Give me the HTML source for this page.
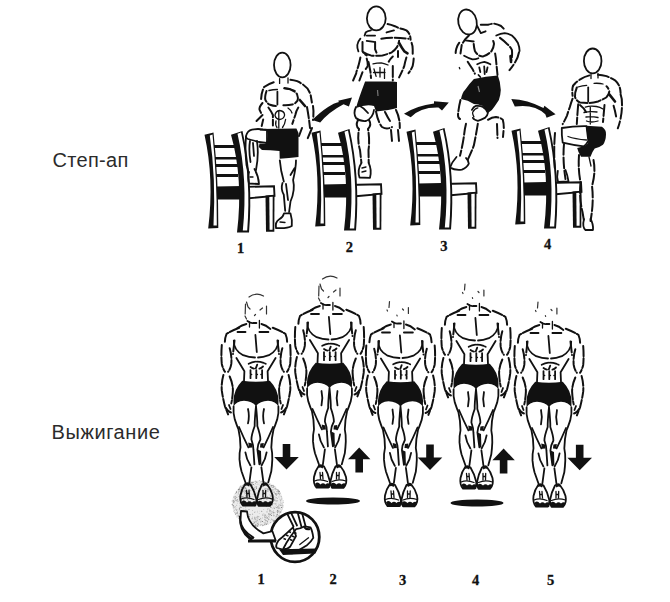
<!DOCTYPE html>
<html><head><meta charset="utf-8">
<style>
html,body{margin:0;padding:0;background:#fff;width:670px;height:602px;overflow:hidden}
svg{display:block}
.lbl{font-family:"Liberation Sans",sans-serif;font-size:20px;fill:#2b2b2b}
.num{font-family:"Liberation Serif",serif;font-weight:bold;font-size:14.5px;fill:#111;stroke:#111;stroke-width:0.3}
.o{fill:none;stroke:#111;stroke-width:1.8;stroke-linecap:round;stroke-linejoin:round}
.t{fill:none;stroke:#111;stroke-width:1.3;stroke-linecap:round}
.d{fill:none;stroke:#111;stroke-width:2;stroke-linecap:round;stroke-dasharray:11 2.5}
.h{fill:none;stroke:#333;stroke-width:1.2;stroke-linecap:round}
.k{fill:#111}
.w{fill:#fff}
</style></head><body>
<svg width="670" height="602" viewBox="0 0 670 602">
<defs>
  <g id="chair">
    <!-- slat lines -->
    <path d="M6 11 L30 11 L30 14 L6 14 Z M7 23 L31 23 L31 25.5 L7 25.5 Z M7 30 L32 30 L32 33 L7 33 Z M8 40 L32 40 L32 43 L8 43 Z" class="k"/>
    <!-- seat -->
    <path d="M10 53.5 L68 52.3 L68.5 62 L40 64.5 L10 64.5 Z" fill="#fff" stroke="#111" stroke-width="1.9"/>
    <path d="M9 53 L35.6 53 L35.6 64 L9 64 Z" class="k"/>
    <!-- left back post -->
    <path d="M-1.5 0.8 L7.5 -1.5 Q12.5 45 12.3 94 L2.2 94.5 Q8.3 45 -1.5 0.8 Z" class="k"/>
    <path d="M3.8 1.5 L6.5 0.5 Q11 45 10.8 91.5 L7.5 91.5 Q10 45 3.8 1.5 Z" class="w"/>
    <!-- right back post -->
    <path d="M25 0.8 L36.5 -3 Q47.5 45 43 98.6 L31 98.6 Q37.5 45 25 0.8 Z" class="k"/>
    <path d="M31.5 -0.3 L35 -1.5 Q45.3 45 41.2 96.5 L36.8 96.5 Q42 45 31.5 -0.3 Z" class="w"/>
    <!-- front leg -->
    <path d="M59.5 61.5 L68.5 60.8 L68.3 97.7 L60 97.7 Z" class="k"/>
    <path d="M63.3 63 L66.7 62.8 L66.6 95.8 L63.6 95.8 Z" class="w"/>
  </g>
  <g id="headA">
    <path d="M-7 -84 Q0 -89 7.5 -85 M-10.5 -77 L-10.8 -67 M10.5 -75 L10.5 -67 M-9.5 -79 L-8 -74 L-6 -72 M4 -71 L6.5 -73 M-1.5 -65.5 L-0.5 -66.5 M-11 -65 L-9.5 -62" class="h"/>
  </g>
  <g id="headB">
    <path d="M-11 -80 L-11.5 -74 M-13.5 -71.5 L-13 -70.5 M2 -72.5 L3 -71.5 M7.9 -74 L7.9 -68 M-3.6 -66.5 L-3.4 -65.5" class="h" stroke-width="1.1"/>
  </g>
  <g id="front">
    <!-- neck & traps -->
    <path d="M-8.6 -60 Q-5 -57.5 -2.6 -58 L0.4 -58" class="o"/>
    <path d="M3.4 -60.5 L3.4 -53 M-6.5 -59 L-6.5 -54" class="t"/>
    <path d="M-18.5 -53 Q-14 -56 -9.6 -57 M5.4 -57 Q10 -56 14.4 -52" class="o"/>
    <path d="M-18.5 -49 L-10.5 -49 M3.4 -49 L12.4 -49" class="o"/>
    <!-- pecs -->
    <path d="M-22.2 -40.4 Q-22.5 -31 -12.9 -25.8 Q-7 -23.5 -1 -23.5" class="o" stroke-width="2"/>
    <path d="M22.2 -40.4 Q22.5 -31 12.9 -25.8 Q7 -23.5 2 -23.5" class="o" stroke-width="2"/>
    <path d="M-0.6 -46 L0.8 -29" class="o" stroke-width="2"/>
    <!-- lats -->
    <path d="M-19.6 -23 L-11.6 -9.8 L-12 0" class="o"/>
    <path d="M19.6 -23 L11.6 -9.8 L12 0" class="o"/>
    <!-- abs -->
    <path d="M-7.3 -17.2 Q0.7 -21.5 9.7 -17.2" class="o" stroke-width="1.9" style="stroke-dasharray:7 1.5"/>
    <path d="M-5.5 -14 Q-3.5 -12.5 -2 -12.3 M3.4 -12.3 Q5.5 -13 7 -14.5 M1.2 -16.3 L-0.2 -12.7" class="o" stroke-width="1.8"/>
    <path d="M-5.5 -10.9 L-5.5 -2.8 M0.3 -10.9 L0.3 -2.8 M6.1 -10.9 L6.1 -2.8" class="o" stroke-width="1.9" style="stroke-dasharray:4 1.3"/>
    <path d="M-5.5 -6.5 L-4.3 -6.5 M0.3 -6.5 L1.5 -6.5 M6.1 -6.5 L4.9 -6.5" class="t"/>
    <!-- arms -->
    <path d="M-16.8 -53.3 Q-24.7 -50.2 -29.5 -47 Q-31.5 -42 -31 -37.6 M16.8 -53.3 Q24.7 -50.2 29.5 -47 Q31.5 -42 31 -37.6" class="d" stroke-width="2.1" style="stroke-dasharray:10 2"/>
    <path d="M-34.2 -36 Q-35 -26 -34.2 -17.1 Q-33 -12 -31 -9.2 M34.2 -36 Q35 -26 34.2 -17.1 Q33 -12 31 -9.2" class="d" stroke-width="2.1" style="stroke-dasharray:10 2"/>
    <path d="M-26.3 -32.8 Q-24 -25 -24.7 -17.1 Q-25.5 -12 -27.9 -9.2 M26.3 -32.8 Q24 -25 24.7 -17.1 Q25.5 -12 27.9 -9.2" class="d" stroke-width="2.1" style="stroke-dasharray:10 2"/>
    <path d="M-32.6 -6 Q-34.8 2 -34.2 9.7 Q-33 18 -31 25.5 L-27.9 33.4 M32.6 -6 Q34.8 2 34.2 9.7 Q33 18 31 25.5 L27.9 33.4" class="d" stroke-width="2.1" style="stroke-dasharray:10 2"/>
    <path d="M-26.3 -4.5 Q-23 3 -23.1 9.7 Q-23.5 17 -24.7 22.4 M26.3 -4.5 Q23 3 23.1 9.7 Q23.5 17 24.7 22.4" class="d" stroke-width="2.1" style="stroke-dasharray:10 2"/>
    <path d="M-21.5 -40.5 L-23 -27 M21.5 -40.5 L23 -27" class="d" stroke-width="1.7"/>
    <path d="M-30 27 Q-27.5 31 -25 31.5 M-27 24 L-25.5 28 M30 27 Q27.5 31 25 31.5 M27 24 L25.5 28" class="o" stroke-width="1.8"/>
    <!-- shorts -->
    <path d="M-13.8 -0.3 Q0 1.8 13.8 -0.3 Q18 4 20.2 9 Q22.5 15 22.5 19 L22.4 25.5 Q20 20.5 12 19.8 Q4 20 0 25 Q-4 20 -12 19.8 Q-20 20.5 -22.4 25.5 L-22.5 19 Q-22.5 15 -20.2 9 Q-18 4 -13.8 -0.3 Z" class="k"/>
    <!-- thighs -->
    <path d="M-22.4 25.5 Q-23 32 -21.2 38.4 Q-19 45 -17.5 48.5 Q-15.5 57 -15.5 66.4 Q-16.8 72 -16.5 78.4 Q-16 85 -14.5 90.3 L-10.6 101.3" class="o" stroke-width="2"/>
    <path d="M22.4 25.5 Q23 32 21.2 38.4 Q19 45 17.5 48.5 Q15.5 57 15.3 66.4 Q16.5 72 16.3 78.4 Q16 85 15.3 90.3 L12.3 101.3" class="o" stroke-width="2"/>
    <path d="M0 25 Q-1.5 40 -1.3 45 Q-4.6 54 -4.6 58.5 Q-2.6 64 -2.6 68.4 L-1.6 83.4 M0 25 Q1.5 40 1.3 45 Q4.4 54 4.4 58.5 Q1.4 64 1.4 68.4 L3.4 83.4" class="o" stroke-width="1.9"/>
    <path d="M-8 28 Q-6.3 35 -8 42.4 M8 28 Q6.3 35 8 42.4" class="o" stroke-width="1.7"/>
    <path d="M-17 46 Q-12.5 56.5 -7.6 66.4 M17 46 Q12.5 56.5 7.6 66.4" class="o" stroke-width="1.8"/>
    <path d="M-7.8 61.5 L-4 62.5 L-3.6 66.4 L-7 66.8 Z M7.8 62 L4.4 62.5 L4 66.4 L7.4 66.8 Z M1.6 68.4 L5 70 L5.4 83.4 L3.2 83.4 Z" class="k"/>
    <path d="M-10.6 71.4 Q-9.6 78.4 -5.6 84.4 M10.6 71.4 Q9.6 78.4 5.6 84.4 M-4.6 86.3 L-6.6 101.3 M5.4 86.3 L7.4 101.3" class="o" stroke-width="1.8"/>
    <!-- shoes -->
    <path d="M-10.5 102.5 Q-14.5 108 -15.5 114 Q-16.5 121 -13 124.5 L-1 124.5 Q0.8 122 0.3 118 Q-1.5 110 -5.5 103.5 Q-8 101.5 -10.5 102.5 Z" fill="#fff" class="o" stroke-width="2"/>
    <path d="M10.5 102.5 Q15 108 16.5 114 Q18 121 14 124.8 L2.5 124.8 Q0.6 122 1 118 Q2.5 110 6 103.5 Q8.5 101.5 10.5 102.5 Z" fill="#fff" class="o" stroke-width="2"/>
    <path d="M-10.5 102.3 Q-8 101.5 -5.8 103.3 L-7 105.5 Q-9 104 -11 105 Z M10.5 102.3 Q8.5 101.5 6.2 103.3 L7.5 105.5 Q9.5 104 11.5 105 Z" class="k"/>
    <path d="M-14.5 121 Q-12 118 -9 121.5 Q-6.5 119 -4 121.5 Q-2 119.5 0.3 121 L0.2 125 L-12.5 125 Z M1.5 121 Q4 118.5 7 121.5 Q9.5 119 12 121.5 Q14.5 119.5 16.5 121 L14.5 125 L2.5 125 Z" class="k"/>
    <path d="M-9.5 109.5 L-9 116 M-7 109.5 L-6.5 116 M-9.3 112.5 L-6.7 112.5 M7 109.5 L7 116 M9.7 109.5 L9.5 116 M7 112.5 L9.6 112.5" class="t"/>
    <path d="M-15 118 Q-9 115.5 -2 118.5 M2.5 118.5 Q9 115.5 16.5 118" class="t"/>
  </g>
  <path id="down" d="M-3.8 0 L3.8 0 L3.8 13 L12.3 13 L0 25.5 L-12.3 13 L-3.8 13 Z"/>
  <path id="up" d="M0 0 L11.2 11.7 L3.8 11.7 L3.8 25 L-3.8 25 L-3.8 11.7 L-11.2 11.7 Z"/>
</defs>

<text x="52.5" y="166.5" class="lbl" style="letter-spacing:0.3px">Степ-ап</text>
<text x="51.5" y="439.2" class="lbl" style="letter-spacing:0.6px">Выжигание</text>

<!-- chairs -->
<use href="#chair" x="206" y="134"/>
<use href="#chair" x="313" y="132"/>
<use href="#chair" x="408" y="131"/>
<use href="#chair" x="513" y="130"/>

<!-- arrows top -->
<path d="M312.2 119.9 Q329.2 103.85 339 102 L338.1 100.8 L352 97.5 L348.9 106.5 L343.5 104.2 Q328.35 112.2 320.2 122.6 Z" class="k"/>
<path d="M404 113.7 Q416.8 105.45 434 103.4 L434 101.2 L448.8 102.5 L442 110.6 L438.5 107.5 Q420.2 107 410.7 117.3 Z" class="k"/>
<path d="M511.3 99 Q527.4 99.75 543.5 107.9 L544.4 105.7 L555.6 114.2 L546.6 117.8 L545.3 114.2 Q533.75 103.6 514.8 106.6 Z" class="k"/>

<!-- bottom figures -->
<g><ellipse cx="257.7" cy="503.4" rx="25.7" ry="23" fill="#ececec"/><circle cx="268.4" cy="516.7" r="0.35" fill="#777"/><circle cx="277.8" cy="515.5" r="0.35" fill="#bbb"/><circle cx="263.2" cy="525.2" r="0.45" fill="#777"/><circle cx="258.9" cy="521.1" r="0.45" fill="#bbb"/><circle cx="247.6" cy="499.5" r="0.55" fill="#888"/><circle cx="278.9" cy="496.9" r="0.55" fill="#bbb"/><circle cx="277.0" cy="500.8" r="0.55" fill="#777"/><circle cx="251.7" cy="524.7" r="0.55" fill="#888"/><circle cx="252.8" cy="514.7" r="0.35" fill="#888"/><circle cx="243.7" cy="488.4" r="0.35" fill="#999"/><circle cx="277.5" cy="510.8" r="0.55" fill="#777"/><circle cx="250.9" cy="490.4" r="0.45" fill="#aaa"/><circle cx="275.8" cy="494.9" r="0.45" fill="#999"/><circle cx="264.9" cy="517.1" r="0.35" fill="#888"/><circle cx="236.2" cy="500.3" r="0.55" fill="#999"/><circle cx="242.0" cy="492.0" r="0.35" fill="#777"/><circle cx="268.4" cy="519.6" r="0.35" fill="#999"/><circle cx="235.5" cy="514.0" r="0.55" fill="#777"/><circle cx="273.1" cy="489.7" r="0.45" fill="#999"/><circle cx="238.6" cy="491.9" r="0.45" fill="#bbb"/><circle cx="267.3" cy="509.1" r="0.45" fill="#999"/><circle cx="278.9" cy="511.6" r="0.55" fill="#999"/><circle cx="248.6" cy="485.7" r="0.45" fill="#aaa"/><circle cx="275.3" cy="489.8" r="0.35" fill="#999"/><circle cx="242.2" cy="521.2" r="0.35" fill="#bbb"/><circle cx="261.8" cy="521.6" r="0.35" fill="#999"/><circle cx="238.9" cy="516.0" r="0.35" fill="#aaa"/><circle cx="245.5" cy="511.2" r="0.35" fill="#999"/><circle cx="273.6" cy="487.1" r="0.55" fill="#999"/><circle cx="245.2" cy="517.1" r="0.35" fill="#aaa"/><circle cx="264.2" cy="515.1" r="0.55" fill="#888"/><circle cx="241.2" cy="504.8" r="0.35" fill="#bbb"/><circle cx="274.9" cy="503.8" r="0.55" fill="#aaa"/><circle cx="240.3" cy="496.5" r="0.55" fill="#888"/><circle cx="281.1" cy="496.6" r="0.45" fill="#777"/><circle cx="262.4" cy="481.5" r="0.45" fill="#bbb"/><circle cx="242.4" cy="514.2" r="0.55" fill="#aaa"/><circle cx="264.8" cy="519.7" r="0.45" fill="#888"/><circle cx="249.7" cy="514.7" r="0.35" fill="#777"/><circle cx="258.9" cy="504.9" r="0.45" fill="#777"/><circle cx="277.8" cy="511.9" r="0.55" fill="#888"/><circle cx="245.0" cy="490.6" r="0.55" fill="#999"/><circle cx="271.3" cy="515.2" r="0.45" fill="#aaa"/><circle cx="249.9" cy="520.5" r="0.35" fill="#888"/><circle cx="256.3" cy="482.3" r="0.55" fill="#aaa"/><circle cx="272.4" cy="505.3" r="0.45" fill="#bbb"/><circle cx="243.8" cy="499.9" r="0.55" fill="#777"/><circle cx="246.6" cy="490.9" r="0.55" fill="#777"/><circle cx="233.4" cy="500.9" r="0.45" fill="#888"/><circle cx="234.4" cy="499.1" r="0.45" fill="#bbb"/><circle cx="240.7" cy="490.3" r="0.35" fill="#888"/><circle cx="256.2" cy="481.8" r="0.35" fill="#888"/><circle cx="244.7" cy="518.3" r="0.35" fill="#777"/><circle cx="234.1" cy="507.1" r="0.55" fill="#888"/><circle cx="245.4" cy="519.8" r="0.45" fill="#999"/><circle cx="267.4" cy="509.9" r="0.35" fill="#aaa"/><circle cx="239.3" cy="505.2" r="0.35" fill="#bbb"/><circle cx="245.9" cy="488.3" r="0.55" fill="#777"/><circle cx="247.3" cy="511.2" r="0.45" fill="#888"/><circle cx="235.0" cy="512.4" r="0.35" fill="#999"/><circle cx="281.4" cy="499.6" r="0.45" fill="#aaa"/><circle cx="276.2" cy="497.7" r="0.35" fill="#888"/><circle cx="283.0" cy="507.4" r="0.45" fill="#bbb"/><circle cx="272.3" cy="520.5" r="0.45" fill="#bbb"/><circle cx="244.3" cy="519.8" r="0.55" fill="#bbb"/><circle cx="271.6" cy="504.5" r="0.55" fill="#777"/><circle cx="272.8" cy="519.6" r="0.35" fill="#888"/><circle cx="259.7" cy="511.1" r="0.35" fill="#bbb"/><circle cx="246.8" cy="522.2" r="0.45" fill="#bbb"/><circle cx="280.3" cy="511.5" r="0.45" fill="#999"/><circle cx="266.7" cy="484.7" r="0.45" fill="#bbb"/><circle cx="275.2" cy="488.3" r="0.55" fill="#888"/><circle cx="243.1" cy="502.5" r="0.35" fill="#aaa"/><circle cx="261.3" cy="483.8" r="0.35" fill="#888"/><circle cx="247.2" cy="494.7" r="0.55" fill="#777"/><circle cx="253.1" cy="494.3" r="0.55" fill="#bbb"/><circle cx="261.1" cy="485.2" r="0.35" fill="#bbb"/><circle cx="254.9" cy="518.3" r="0.55" fill="#777"/><circle cx="277.6" cy="506.6" r="0.45" fill="#777"/><circle cx="275.8" cy="500.7" r="0.55" fill="#bbb"/><circle cx="255.0" cy="517.4" r="0.55" fill="#bbb"/><circle cx="233.6" cy="502.3" r="0.55" fill="#888"/><circle cx="272.8" cy="490.1" r="0.55" fill="#999"/><circle cx="265.0" cy="524.7" r="0.35" fill="#aaa"/><circle cx="242.3" cy="514.5" r="0.35" fill="#999"/><circle cx="237.2" cy="512.3" r="0.55" fill="#888"/><circle cx="270.6" cy="514.6" r="0.55" fill="#888"/><circle cx="242.7" cy="518.4" r="0.35" fill="#999"/><circle cx="262.5" cy="525.8" r="0.45" fill="#777"/><circle cx="270.6" cy="522.3" r="0.35" fill="#888"/><circle cx="280.8" cy="502.6" r="0.45" fill="#aaa"/><circle cx="245.4" cy="517.3" r="0.55" fill="#777"/><circle cx="247.7" cy="517.9" r="0.45" fill="#aaa"/><circle cx="240.4" cy="517.1" r="0.55" fill="#bbb"/><circle cx="275.0" cy="499.5" r="0.35" fill="#777"/><circle cx="277.9" cy="517.4" r="0.45" fill="#999"/><circle cx="259.5" cy="494.8" r="0.35" fill="#999"/><circle cx="271.9" cy="485.8" r="0.45" fill="#999"/><circle cx="270.4" cy="497.1" r="0.45" fill="#bbb"/><circle cx="277.2" cy="514.4" r="0.55" fill="#777"/><circle cx="269.9" cy="494.9" r="0.35" fill="#999"/><circle cx="264.8" cy="484.4" r="0.55" fill="#777"/><circle cx="280.1" cy="512.3" r="0.45" fill="#777"/><circle cx="264.4" cy="503.2" r="0.45" fill="#aaa"/><circle cx="279.2" cy="508.7" r="0.35" fill="#888"/><circle cx="255.8" cy="526.1" r="0.35" fill="#888"/><circle cx="240.3" cy="487.1" r="0.35" fill="#bbb"/><circle cx="240.0" cy="503.4" r="0.45" fill="#888"/><circle cx="276.3" cy="505.3" r="0.35" fill="#999"/><circle cx="256.9" cy="496.9" r="0.35" fill="#bbb"/><circle cx="258.3" cy="522.2" r="0.35" fill="#aaa"/><circle cx="244.4" cy="487.0" r="0.55" fill="#aaa"/><circle cx="238.6" cy="517.0" r="0.45" fill="#bbb"/><circle cx="280.5" cy="501.1" r="0.35" fill="#999"/><circle cx="251.2" cy="482.4" r="0.45" fill="#888"/><circle cx="283.2" cy="500.8" r="0.35" fill="#888"/><circle cx="257.0" cy="493.0" r="0.45" fill="#999"/><circle cx="270.6" cy="510.2" r="0.55" fill="#aaa"/><circle cx="253.2" cy="523.4" r="0.55" fill="#888"/><circle cx="240.5" cy="507.4" r="0.45" fill="#888"/><circle cx="256.0" cy="521.4" r="0.55" fill="#999"/><circle cx="275.6" cy="506.9" r="0.35" fill="#999"/><circle cx="276.6" cy="503.5" r="0.35" fill="#aaa"/><circle cx="237.2" cy="503.1" r="0.35" fill="#888"/><circle cx="278.6" cy="504.0" r="0.35" fill="#999"/><circle cx="245.4" cy="496.7" r="0.35" fill="#aaa"/><circle cx="245.4" cy="491.7" r="0.55" fill="#777"/><circle cx="273.0" cy="485.3" r="0.55" fill="#888"/><circle cx="263.0" cy="481.7" r="0.45" fill="#bbb"/><circle cx="253.4" cy="482.5" r="0.35" fill="#aaa"/><circle cx="244.8" cy="492.7" r="0.35" fill="#888"/><circle cx="252.4" cy="482.2" r="0.55" fill="#bbb"/><circle cx="251.7" cy="486.4" r="0.35" fill="#bbb"/><circle cx="258.2" cy="481.0" r="0.35" fill="#bbb"/><circle cx="236.7" cy="492.5" r="0.35" fill="#888"/><circle cx="263.8" cy="509.4" r="0.35" fill="#999"/><circle cx="239.4" cy="508.6" r="0.55" fill="#777"/><circle cx="250.0" cy="502.0" r="0.45" fill="#888"/><circle cx="241.1" cy="507.5" r="0.55" fill="#777"/><circle cx="277.9" cy="489.9" r="0.55" fill="#777"/><circle cx="257.1" cy="484.4" r="0.45" fill="#aaa"/><circle cx="271.4" cy="485.6" r="0.55" fill="#888"/><circle cx="260.6" cy="524.4" r="0.45" fill="#aaa"/><circle cx="279.4" cy="513.5" r="0.35" fill="#999"/><circle cx="243.8" cy="487.9" r="0.55" fill="#777"/><circle cx="257.3" cy="516.3" r="0.55" fill="#999"/><circle cx="279.3" cy="504.9" r="0.45" fill="#777"/><circle cx="249.5" cy="489.7" r="0.55" fill="#888"/><circle cx="252.4" cy="485.5" r="0.45" fill="#999"/><circle cx="259.9" cy="485.2" r="0.35" fill="#bbb"/><circle cx="273.2" cy="511.7" r="0.35" fill="#aaa"/><circle cx="273.4" cy="510.7" r="0.45" fill="#bbb"/><circle cx="238.3" cy="518.4" r="0.35" fill="#888"/><circle cx="271.4" cy="518.6" r="0.45" fill="#bbb"/><circle cx="274.7" cy="520.2" r="0.45" fill="#bbb"/><circle cx="250.5" cy="482.2" r="0.45" fill="#888"/><circle cx="232.9" cy="505.3" r="0.35" fill="#777"/><circle cx="253.0" cy="503.6" r="0.45" fill="#aaa"/><circle cx="269.1" cy="515.8" r="0.45" fill="#999"/><circle cx="267.5" cy="489.7" r="0.45" fill="#777"/><circle cx="270.2" cy="485.5" r="0.35" fill="#777"/><circle cx="276.6" cy="491.4" r="0.45" fill="#999"/><circle cx="242.8" cy="514.1" r="0.35" fill="#bbb"/><circle cx="240.7" cy="510.8" r="0.35" fill="#999"/><circle cx="274.3" cy="508.4" r="0.55" fill="#999"/><circle cx="257.8" cy="525.9" r="0.45" fill="#999"/><circle cx="265.5" cy="520.9" r="0.45" fill="#999"/><circle cx="267.1" cy="482.9" r="0.55" fill="#aaa"/><circle cx="253.6" cy="484.5" r="0.55" fill="#777"/><circle cx="242.9" cy="491.8" r="0.55" fill="#888"/><circle cx="233.2" cy="505.4" r="0.35" fill="#bbb"/><circle cx="244.7" cy="510.3" r="0.45" fill="#999"/><circle cx="256.5" cy="488.2" r="0.45" fill="#999"/><circle cx="250.6" cy="522.6" r="0.55" fill="#bbb"/><circle cx="267.3" cy="518.5" r="0.35" fill="#888"/><circle cx="271.0" cy="495.4" r="0.55" fill="#aaa"/><circle cx="271.3" cy="495.3" r="0.45" fill="#aaa"/><circle cx="262.7" cy="515.3" r="0.35" fill="#777"/><circle cx="273.4" cy="512.4" r="0.45" fill="#888"/><circle cx="242.2" cy="496.9" r="0.55" fill="#777"/><circle cx="239.4" cy="518.2" r="0.35" fill="#bbb"/><circle cx="247.6" cy="518.0" r="0.45" fill="#777"/><circle cx="274.8" cy="500.2" r="0.55" fill="#888"/><circle cx="243.3" cy="489.8" r="0.35" fill="#888"/><circle cx="257.9" cy="518.9" r="0.55" fill="#aaa"/><circle cx="277.0" cy="498.2" r="0.35" fill="#777"/><circle cx="255.4" cy="495.5" r="0.55" fill="#aaa"/><circle cx="276.3" cy="511.6" r="0.45" fill="#bbb"/><circle cx="257.9" cy="526.2" r="0.35" fill="#777"/><circle cx="243.2" cy="501.6" r="0.55" fill="#777"/><circle cx="270.9" cy="486.4" r="0.35" fill="#aaa"/><circle cx="278.5" cy="508.1" r="0.35" fill="#888"/><circle cx="278.8" cy="507.9" r="0.35" fill="#999"/><circle cx="235.7" cy="499.9" r="0.55" fill="#aaa"/><circle cx="276.9" cy="515.8" r="0.55" fill="#999"/><circle cx="266.7" cy="524.5" r="0.35" fill="#999"/><circle cx="281.6" cy="503.6" r="0.45" fill="#bbb"/><circle cx="253.1" cy="526.0" r="0.55" fill="#999"/><circle cx="258.9" cy="525.2" r="0.35" fill="#bbb"/><circle cx="278.8" cy="506.9" r="0.55" fill="#aaa"/><circle cx="278.9" cy="510.3" r="0.45" fill="#888"/><circle cx="242.8" cy="485.7" r="0.45" fill="#777"/><circle cx="243.0" cy="510.2" r="0.35" fill="#999"/><circle cx="250.8" cy="485.9" r="0.45" fill="#aaa"/><circle cx="265.0" cy="522.8" r="0.55" fill="#999"/><circle cx="280.0" cy="512.4" r="0.35" fill="#aaa"/><circle cx="265.4" cy="488.7" r="0.45" fill="#888"/><circle cx="258.8" cy="488.8" r="0.35" fill="#999"/><circle cx="232.4" cy="504.0" r="0.35" fill="#888"/><circle cx="275.2" cy="493.5" r="0.55" fill="#777"/><circle cx="246.4" cy="511.4" r="0.35" fill="#888"/><circle cx="273.7" cy="521.2" r="0.55" fill="#777"/><circle cx="249.0" cy="509.5" r="0.55" fill="#999"/><circle cx="269.4" cy="509.1" r="0.45" fill="#888"/><circle cx="248.7" cy="492.0" r="0.55" fill="#bbb"/><circle cx="250.0" cy="520.3" r="0.45" fill="#aaa"/><circle cx="233.8" cy="511.5" r="0.35" fill="#777"/><circle cx="268.2" cy="508.6" r="0.35" fill="#aaa"/><circle cx="258.9" cy="484.1" r="0.45" fill="#aaa"/><circle cx="249.1" cy="523.2" r="0.35" fill="#aaa"/><circle cx="247.4" cy="504.9" r="0.55" fill="#999"/><circle cx="266.5" cy="524.4" r="0.55" fill="#999"/><circle cx="282.1" cy="507.6" r="0.35" fill="#aaa"/><circle cx="260.2" cy="481.9" r="0.45" fill="#777"/><circle cx="266.4" cy="506.6" r="0.45" fill="#777"/><circle cx="272.2" cy="508.8" r="0.45" fill="#bbb"/><circle cx="248.1" cy="518.0" r="0.35" fill="#bbb"/><circle cx="254.1" cy="488.3" r="0.45" fill="#999"/><circle cx="254.5" cy="487.7" r="0.55" fill="#bbb"/><circle cx="280.9" cy="512.4" r="0.35" fill="#888"/><circle cx="277.5" cy="498.5" r="0.45" fill="#aaa"/><circle cx="267.6" cy="482.8" r="0.45" fill="#888"/><circle cx="262.7" cy="490.3" r="0.55" fill="#999"/><circle cx="239.1" cy="490.1" r="0.45" fill="#999"/><circle cx="262.0" cy="485.6" r="0.35" fill="#bbb"/><circle cx="241.4" cy="515.2" r="0.35" fill="#888"/><circle cx="246.1" cy="489.2" r="0.55" fill="#aaa"/><circle cx="269.1" cy="519.6" r="0.35" fill="#aaa"/><circle cx="255.3" cy="526.2" r="0.35" fill="#777"/><circle cx="245.0" cy="503.5" r="0.35" fill="#aaa"/><circle cx="243.3" cy="510.8" r="0.55" fill="#bbb"/><circle cx="241.5" cy="499.8" r="0.45" fill="#777"/><circle cx="241.5" cy="496.9" r="0.45" fill="#999"/><circle cx="265.1" cy="523.3" r="0.35" fill="#888"/><circle cx="267.3" cy="515.8" r="0.35" fill="#bbb"/><circle cx="243.1" cy="513.4" r="0.55" fill="#888"/><circle cx="245.2" cy="488.1" r="0.55" fill="#777"/><circle cx="277.6" cy="507.6" r="0.45" fill="#777"/><circle cx="260.6" cy="525.4" r="0.45" fill="#aaa"/><circle cx="255.0" cy="511.9" r="0.35" fill="#777"/><circle cx="273.1" cy="501.0" r="0.35" fill="#bbb"/><circle cx="240.2" cy="519.6" r="0.45" fill="#888"/><circle cx="261.2" cy="483.9" r="0.35" fill="#777"/><circle cx="252.1" cy="483.9" r="0.35" fill="#999"/><circle cx="252.6" cy="510.6" r="0.35" fill="#777"/><circle cx="282.7" cy="508.9" r="0.35" fill="#888"/><circle cx="237.3" cy="515.1" r="0.35" fill="#999"/><circle cx="277.4" cy="512.8" r="0.45" fill="#777"/><circle cx="277.5" cy="510.8" r="0.45" fill="#777"/><circle cx="270.5" cy="520.2" r="0.35" fill="#bbb"/><circle cx="239.6" cy="515.5" r="0.45" fill="#999"/><circle cx="245.1" cy="483.5" r="0.35" fill="#aaa"/><circle cx="241.1" cy="496.8" r="0.45" fill="#999"/><circle cx="270.7" cy="490.1" r="0.55" fill="#999"/><circle cx="255.5" cy="489.4" r="0.35" fill="#888"/><circle cx="268.8" cy="518.3" r="0.35" fill="#777"/><circle cx="272.2" cy="491.6" r="0.35" fill="#aaa"/><circle cx="270.9" cy="507.4" r="0.55" fill="#888"/><circle cx="238.5" cy="516.4" r="0.55" fill="#bbb"/><circle cx="255.7" cy="481.0" r="0.35" fill="#888"/><circle cx="267.6" cy="517.6" r="0.35" fill="#888"/><circle cx="244.5" cy="504.1" r="0.45" fill="#888"/><circle cx="270.7" cy="499.1" r="0.45" fill="#aaa"/><circle cx="267.2" cy="499.1" r="0.35" fill="#aaa"/><circle cx="239.6" cy="488.1" r="0.55" fill="#888"/><circle cx="261.9" cy="524.5" r="0.55" fill="#aaa"/><circle cx="269.4" cy="484.2" r="0.55" fill="#888"/><circle cx="244.5" cy="512.0" r="0.35" fill="#bbb"/><circle cx="271.5" cy="515.5" r="0.55" fill="#888"/><circle cx="266.2" cy="523.6" r="0.55" fill="#bbb"/><circle cx="262.8" cy="496.1" r="0.45" fill="#777"/><circle cx="236.7" cy="497.3" r="0.55" fill="#999"/><circle cx="240.5" cy="494.6" r="0.45" fill="#aaa"/><circle cx="236.3" cy="510.1" r="0.35" fill="#aaa"/><circle cx="251.6" cy="498.3" r="0.45" fill="#aaa"/><circle cx="259.1" cy="488.6" r="0.35" fill="#aaa"/><circle cx="238.1" cy="516.1" r="0.35" fill="#777"/><circle cx="245.2" cy="516.1" r="0.55" fill="#aaa"/><circle cx="278.0" cy="508.2" r="0.35" fill="#888"/><circle cx="247.9" cy="524.1" r="0.35" fill="#bbb"/><circle cx="247.0" cy="503.2" r="0.55" fill="#aaa"/><circle cx="274.3" cy="520.5" r="0.55" fill="#777"/><circle cx="267.0" cy="484.2" r="0.35" fill="#888"/><circle cx="232.2" cy="504.6" r="0.55" fill="#888"/><circle cx="279.4" cy="494.4" r="0.45" fill="#777"/><circle cx="257.4" cy="523.2" r="0.55" fill="#999"/><circle cx="264.7" cy="489.1" r="0.45" fill="#888"/><circle cx="276.0" cy="494.4" r="0.55" fill="#888"/><circle cx="240.5" cy="502.8" r="0.45" fill="#999"/><circle cx="261.7" cy="511.2" r="0.55" fill="#888"/><circle cx="246.9" cy="483.0" r="0.35" fill="#aaa"/><circle cx="255.5" cy="524.8" r="0.35" fill="#bbb"/><circle cx="243.4" cy="518.9" r="0.55" fill="#aaa"/><circle cx="249.8" cy="485.9" r="0.45" fill="#777"/><circle cx="240.1" cy="486.7" r="0.55" fill="#aaa"/><circle cx="255.5" cy="524.8" r="0.55" fill="#999"/><circle cx="250.7" cy="514.7" r="0.45" fill="#777"/><circle cx="245.3" cy="493.6" r="0.45" fill="#777"/><circle cx="257.1" cy="525.1" r="0.55" fill="#bbb"/><circle cx="255.1" cy="481.3" r="0.35" fill="#777"/><circle cx="246.9" cy="494.7" r="0.45" fill="#aaa"/><circle cx="274.4" cy="491.9" r="0.45" fill="#888"/><circle cx="248.3" cy="491.3" r="0.35" fill="#777"/><circle cx="255.1" cy="506.5" r="0.55" fill="#777"/><circle cx="260.7" cy="520.1" r="0.45" fill="#bbb"/><circle cx="263.9" cy="522.2" r="0.45" fill="#bbb"/><circle cx="272.4" cy="504.6" r="0.55" fill="#888"/><circle cx="269.7" cy="510.8" r="0.55" fill="#888"/><circle cx="238.2" cy="515.7" r="0.35" fill="#999"/><circle cx="262.4" cy="494.7" r="0.55" fill="#999"/><circle cx="236.6" cy="510.4" r="0.55" fill="#bbb"/><circle cx="268.3" cy="519.4" r="0.35" fill="#777"/><circle cx="268.7" cy="505.0" r="0.35" fill="#888"/><circle cx="270.3" cy="496.4" r="0.35" fill="#777"/><circle cx="245.4" cy="486.9" r="0.35" fill="#888"/><circle cx="238.1" cy="501.4" r="0.55" fill="#bbb"/><circle cx="266.4" cy="484.8" r="0.55" fill="#888"/><circle cx="252.1" cy="518.8" r="0.55" fill="#777"/><circle cx="252.5" cy="482.5" r="0.45" fill="#777"/><circle cx="257.0" cy="481.5" r="0.35" fill="#aaa"/><circle cx="235.2" cy="509.6" r="0.35" fill="#888"/><circle cx="247.1" cy="491.3" r="0.45" fill="#777"/><circle cx="279.8" cy="493.3" r="0.55" fill="#999"/><circle cx="250.7" cy="496.2" r="0.55" fill="#aaa"/><circle cx="234.0" cy="500.3" r="0.45" fill="#999"/><circle cx="279.7" cy="499.0" r="0.35" fill="#888"/><circle cx="282.3" cy="505.5" r="0.35" fill="#999"/><circle cx="264.8" cy="524.3" r="0.55" fill="#888"/><circle cx="266.6" cy="524.3" r="0.45" fill="#aaa"/><circle cx="241.7" cy="517.0" r="0.45" fill="#bbb"/><circle cx="237.6" cy="499.9" r="0.35" fill="#777"/><circle cx="254.5" cy="485.7" r="0.45" fill="#bbb"/><circle cx="239.1" cy="516.9" r="0.35" fill="#bbb"/><circle cx="267.9" cy="520.5" r="0.35" fill="#777"/><circle cx="248.1" cy="495.1" r="0.45" fill="#888"/><circle cx="249.9" cy="481.6" r="0.35" fill="#777"/><circle cx="248.9" cy="493.4" r="0.55" fill="#777"/><circle cx="268.7" cy="506.4" r="0.45" fill="#bbb"/><circle cx="272.9" cy="499.4" r="0.55" fill="#bbb"/><circle cx="265.4" cy="495.9" r="0.35" fill="#aaa"/><circle cx="262.6" cy="517.9" r="0.35" fill="#777"/><circle cx="279.2" cy="491.4" r="0.55" fill="#777"/><circle cx="235.5" cy="506.3" r="0.35" fill="#888"/><circle cx="243.2" cy="486.3" r="0.45" fill="#999"/><circle cx="256.4" cy="519.9" r="0.45" fill="#999"/><circle cx="281.7" cy="510.1" r="0.45" fill="#999"/><circle cx="238.7" cy="490.7" r="0.45" fill="#aaa"/><circle cx="279.5" cy="507.3" r="0.35" fill="#aaa"/><circle cx="260.6" cy="485.7" r="0.45" fill="#999"/><circle cx="235.2" cy="498.5" r="0.55" fill="#888"/><circle cx="278.4" cy="515.3" r="0.35" fill="#999"/><circle cx="237.9" cy="500.8" r="0.35" fill="#999"/><circle cx="252.7" cy="503.7" r="0.55" fill="#aaa"/><circle cx="267.3" cy="523.1" r="0.55" fill="#aaa"/><circle cx="266.9" cy="488.8" r="0.55" fill="#999"/><circle cx="252.4" cy="525.5" r="0.55" fill="#888"/><circle cx="266.1" cy="516.2" r="0.45" fill="#777"/><circle cx="249.9" cy="483.2" r="0.55" fill="#777"/><circle cx="272.9" cy="512.7" r="0.55" fill="#aaa"/><circle cx="267.1" cy="496.3" r="0.45" fill="#777"/><circle cx="256.4" cy="517.7" r="0.55" fill="#bbb"/><circle cx="272.7" cy="501.9" r="0.45" fill="#888"/><circle cx="246.2" cy="496.5" r="0.55" fill="#bbb"/><circle cx="249.6" cy="499.3" r="0.35" fill="#bbb"/><circle cx="234.3" cy="510.2" r="0.55" fill="#bbb"/><circle cx="239.9" cy="507.2" r="0.55" fill="#999"/><circle cx="249.4" cy="516.2" r="0.55" fill="#888"/><circle cx="252.7" cy="516.7" r="0.35" fill="#bbb"/><circle cx="280.7" cy="500.1" r="0.55" fill="#999"/><circle cx="268.9" cy="519.4" r="0.35" fill="#999"/><circle cx="274.1" cy="499.1" r="0.35" fill="#777"/><circle cx="278.1" cy="517.0" r="0.35" fill="#aaa"/><circle cx="264.8" cy="481.4" r="0.45" fill="#999"/><circle cx="271.2" cy="513.3" r="0.45" fill="#777"/><circle cx="245.5" cy="512.6" r="0.35" fill="#777"/><circle cx="262.7" cy="486.5" r="0.55" fill="#888"/><circle cx="250.4" cy="525.3" r="0.35" fill="#777"/><circle cx="256.4" cy="488.1" r="0.55" fill="#777"/><circle cx="267.8" cy="491.4" r="0.55" fill="#bbb"/><circle cx="237.0" cy="513.4" r="0.55" fill="#888"/><circle cx="274.7" cy="489.1" r="0.35" fill="#bbb"/><circle cx="243.3" cy="487.5" r="0.45" fill="#aaa"/><circle cx="245.1" cy="491.7" r="0.45" fill="#777"/><circle cx="244.1" cy="512.2" r="0.45" fill="#888"/><circle cx="233.4" cy="505.8" r="0.55" fill="#777"/><circle cx="233.3" cy="500.9" r="0.55" fill="#888"/><circle cx="276.1" cy="504.5" r="0.35" fill="#aaa"/><circle cx="248.4" cy="501.1" r="0.55" fill="#888"/><circle cx="279.9" cy="495.6" r="0.45" fill="#bbb"/><circle cx="246.2" cy="498.2" r="0.35" fill="#bbb"/><circle cx="234.5" cy="501.8" r="0.55" fill="#999"/><circle cx="256.8" cy="486.7" r="0.35" fill="#aaa"/><circle cx="268.1" cy="524.4" r="0.35" fill="#bbb"/><circle cx="240.1" cy="489.7" r="0.45" fill="#777"/><circle cx="243.6" cy="512.6" r="0.35" fill="#777"/><circle cx="240.3" cy="511.9" r="0.55" fill="#999"/><circle cx="260.5" cy="518.6" r="0.55" fill="#aaa"/><circle cx="283.2" cy="502.6" r="0.45" fill="#aaa"/><circle cx="268.8" cy="513.9" r="0.55" fill="#777"/><circle cx="247.9" cy="492.5" r="0.35" fill="#888"/><circle cx="245.6" cy="490.5" r="0.45" fill="#aaa"/><circle cx="259.3" cy="480.5" r="0.45" fill="#888"/><circle cx="268.8" cy="489.8" r="0.55" fill="#999"/><circle cx="257.3" cy="520.5" r="0.55" fill="#aaa"/><circle cx="273.2" cy="503.6" r="0.45" fill="#999"/><circle cx="252.3" cy="517.7" r="0.45" fill="#aaa"/><circle cx="244.7" cy="489.9" r="0.35" fill="#999"/><circle cx="273.0" cy="485.6" r="0.35" fill="#777"/><circle cx="277.9" cy="491.3" r="0.55" fill="#888"/><circle cx="241.4" cy="487.2" r="0.55" fill="#777"/><circle cx="264.1" cy="501.6" r="0.45" fill="#999"/><circle cx="238.2" cy="494.0" r="0.35" fill="#888"/><circle cx="244.1" cy="520.9" r="0.35" fill="#888"/><circle cx="264.2" cy="481.8" r="0.55" fill="#888"/><circle cx="238.4" cy="489.4" r="0.55" fill="#777"/><circle cx="233.9" cy="496.7" r="0.35" fill="#999"/><circle cx="262.5" cy="521.5" r="0.55" fill="#777"/><circle cx="246.1" cy="484.2" r="0.55" fill="#777"/><circle cx="245.9" cy="509.3" r="0.45" fill="#888"/><circle cx="277.1" cy="510.1" r="0.35" fill="#aaa"/><circle cx="258.2" cy="524.1" r="0.55" fill="#888"/><circle cx="255.6" cy="483.8" r="0.45" fill="#888"/><circle cx="238.8" cy="496.4" r="0.45" fill="#999"/><circle cx="241.0" cy="511.8" r="0.35" fill="#777"/><circle cx="243.0" cy="488.2" r="0.35" fill="#777"/><circle cx="248.6" cy="485.3" r="0.35" fill="#999"/><circle cx="236.8" cy="505.2" r="0.35" fill="#888"/><circle cx="243.8" cy="510.7" r="0.45" fill="#888"/><circle cx="250.8" cy="493.9" r="0.45" fill="#999"/><circle cx="235.2" cy="496.3" r="0.45" fill="#888"/><circle cx="240.0" cy="511.8" r="0.35" fill="#bbb"/><circle cx="251.2" cy="524.3" r="0.45" fill="#aaa"/><circle cx="276.1" cy="501.8" r="0.45" fill="#bbb"/><circle cx="243.3" cy="484.6" r="0.45" fill="#777"/><circle cx="254.1" cy="489.7" r="0.55" fill="#888"/><circle cx="279.4" cy="515.3" r="0.45" fill="#777"/><circle cx="275.2" cy="489.7" r="0.55" fill="#bbb"/><circle cx="254.4" cy="512.3" r="0.35" fill="#777"/><circle cx="271.4" cy="496.8" r="0.55" fill="#bbb"/><circle cx="246.6" cy="503.3" r="0.55" fill="#bbb"/><circle cx="269.3" cy="517.1" r="0.55" fill="#bbb"/><circle cx="269.5" cy="506.1" r="0.55" fill="#aaa"/><circle cx="276.7" cy="516.0" r="0.35" fill="#888"/><circle cx="273.7" cy="513.9" r="0.45" fill="#777"/><circle cx="273.6" cy="520.3" r="0.55" fill="#999"/><circle cx="272.8" cy="487.6" r="0.45" fill="#888"/><circle cx="267.0" cy="504.5" r="0.55" fill="#bbb"/><circle cx="276.4" cy="493.3" r="0.55" fill="#aaa"/><circle cx="267.3" cy="486.5" r="0.55" fill="#aaa"/><circle cx="238.7" cy="515.0" r="0.35" fill="#777"/><circle cx="238.7" cy="492.0" r="0.45" fill="#888"/><circle cx="235.0" cy="497.0" r="0.55" fill="#777"/><circle cx="274.0" cy="492.2" r="0.45" fill="#777"/><circle cx="255.6" cy="499.2" r="0.35" fill="#777"/><circle cx="269.5" cy="513.5" r="0.35" fill="#aaa"/><circle cx="241.9" cy="496.8" r="0.55" fill="#aaa"/><circle cx="278.5" cy="493.6" r="0.55" fill="#999"/><circle cx="272.0" cy="487.0" r="0.45" fill="#777"/><circle cx="252.0" cy="484.0" r="0.55" fill="#aaa"/><circle cx="257.1" cy="525.9" r="0.55" fill="#777"/><circle cx="266.2" cy="506.4" r="0.35" fill="#bbb"/><circle cx="250.3" cy="519.4" r="0.35" fill="#bbb"/><circle cx="270.6" cy="483.9" r="0.35" fill="#bbb"/><circle cx="275.0" cy="498.2" r="0.45" fill="#aaa"/><circle cx="271.7" cy="519.6" r="0.45" fill="#777"/><circle cx="270.7" cy="522.8" r="0.45" fill="#aaa"/><circle cx="262.1" cy="486.6" r="0.55" fill="#999"/><circle cx="254.2" cy="519.7" r="0.55" fill="#bbb"/><circle cx="268.5" cy="485.1" r="0.55" fill="#999"/><circle cx="280.9" cy="505.4" r="0.55" fill="#888"/><circle cx="236.7" cy="492.4" r="0.45" fill="#888"/><circle cx="243.9" cy="515.5" r="0.45" fill="#888"/><circle cx="275.3" cy="503.6" r="0.45" fill="#999"/><circle cx="240.7" cy="494.2" r="0.45" fill="#777"/><circle cx="266.9" cy="483.2" r="0.35" fill="#bbb"/><circle cx="268.0" cy="490.9" r="0.55" fill="#bbb"/><circle cx="233.9" cy="503.4" r="0.35" fill="#bbb"/><circle cx="236.4" cy="505.2" r="0.35" fill="#aaa"/><circle cx="253.5" cy="482.3" r="0.45" fill="#888"/><circle cx="248.0" cy="485.6" r="0.55" fill="#aaa"/><circle cx="257.2" cy="517.7" r="0.45" fill="#777"/><circle cx="275.0" cy="512.9" r="0.35" fill="#999"/><circle cx="243.1" cy="496.3" r="0.55" fill="#999"/><circle cx="239.4" cy="502.8" r="0.35" fill="#888"/><circle cx="271.2" cy="511.3" r="0.45" fill="#999"/><circle cx="243.9" cy="518.5" r="0.35" fill="#bbb"/><circle cx="272.6" cy="496.3" r="0.45" fill="#aaa"/><circle cx="240.7" cy="519.3" r="0.35" fill="#aaa"/><circle cx="245.6" cy="495.8" r="0.45" fill="#999"/><circle cx="278.6" cy="505.8" r="0.35" fill="#777"/><circle cx="274.8" cy="486.3" r="0.55" fill="#aaa"/><circle cx="256.1" cy="522.8" r="0.45" fill="#999"/><circle cx="245.6" cy="507.1" r="0.55" fill="#bbb"/><circle cx="257.1" cy="526.1" r="0.45" fill="#777"/><circle cx="264.4" cy="516.3" r="0.35" fill="#777"/><circle cx="247.9" cy="500.1" r="0.45" fill="#aaa"/><circle cx="279.0" cy="491.3" r="0.55" fill="#777"/><circle cx="277.5" cy="493.9" r="0.45" fill="#777"/><circle cx="259.6" cy="519.6" r="0.55" fill="#777"/><circle cx="266.3" cy="520.5" r="0.45" fill="#888"/><circle cx="283.1" cy="502.2" r="0.35" fill="#888"/><circle cx="257.3" cy="512.1" r="0.35" fill="#999"/><circle cx="278.3" cy="490.8" r="0.45" fill="#777"/><circle cx="251.7" cy="482.7" r="0.35" fill="#aaa"/><circle cx="252.4" cy="513.9" r="0.35" fill="#777"/><circle cx="250.8" cy="522.9" r="0.45" fill="#bbb"/><circle cx="276.3" cy="516.4" r="0.45" fill="#999"/><circle cx="269.9" cy="514.2" r="0.45" fill="#aaa"/><circle cx="258.8" cy="516.8" r="0.55" fill="#888"/><circle cx="233.4" cy="507.9" r="0.35" fill="#888"/><circle cx="265.0" cy="492.0" r="0.55" fill="#777"/><circle cx="276.5" cy="489.2" r="0.45" fill="#888"/><circle cx="280.4" cy="493.2" r="0.35" fill="#aaa"/><circle cx="236.3" cy="509.3" r="0.45" fill="#999"/><circle cx="233.7" cy="506.5" r="0.35" fill="#999"/><circle cx="256.1" cy="486.9" r="0.55" fill="#888"/><circle cx="273.2" cy="491.8" r="0.35" fill="#aaa"/><circle cx="243.0" cy="511.5" r="0.35" fill="#888"/><circle cx="267.0" cy="490.2" r="0.35" fill="#999"/><circle cx="271.0" cy="513.1" r="0.45" fill="#aaa"/><circle cx="271.0" cy="501.8" r="0.55" fill="#777"/><circle cx="245.5" cy="484.0" r="0.55" fill="#888"/><circle cx="253.1" cy="521.3" r="0.35" fill="#999"/><circle cx="234.5" cy="512.8" r="0.35" fill="#999"/><circle cx="278.2" cy="516.3" r="0.45" fill="#999"/><circle cx="281.0" cy="511.3" r="0.35" fill="#999"/><circle cx="283.1" cy="505.7" r="0.45" fill="#bbb"/><circle cx="238.0" cy="510.0" r="0.45" fill="#bbb"/><circle cx="243.5" cy="508.9" r="0.35" fill="#aaa"/><circle cx="265.1" cy="517.6" r="0.55" fill="#888"/><circle cx="252.0" cy="482.7" r="0.55" fill="#888"/><circle cx="267.9" cy="509.0" r="0.55" fill="#bbb"/><circle cx="254.6" cy="521.8" r="0.35" fill="#888"/><circle cx="251.9" cy="484.2" r="0.55" fill="#888"/><circle cx="275.7" cy="504.4" r="0.45" fill="#bbb"/><circle cx="278.8" cy="492.4" r="0.45" fill="#bbb"/><circle cx="267.8" cy="489.5" r="0.35" fill="#aaa"/><circle cx="263.9" cy="499.9" r="0.35" fill="#aaa"/><circle cx="255.2" cy="525.4" r="0.55" fill="#888"/><circle cx="241.4" cy="519.5" r="0.55" fill="#888"/><circle cx="241.9" cy="493.8" r="0.45" fill="#777"/><circle cx="237.8" cy="509.7" r="0.35" fill="#bbb"/><circle cx="254.7" cy="491.5" r="0.55" fill="#999"/><circle cx="235.8" cy="493.2" r="0.45" fill="#777"/><circle cx="281.4" cy="497.1" r="0.45" fill="#aaa"/><circle cx="237.0" cy="499.8" r="0.35" fill="#bbb"/><circle cx="265.6" cy="501.9" r="0.55" fill="#888"/><circle cx="270.0" cy="511.7" r="0.55" fill="#999"/><circle cx="281.5" cy="507.5" r="0.55" fill="#777"/><circle cx="256.0" cy="524.3" r="0.55" fill="#bbb"/><circle cx="236.1" cy="500.6" r="0.35" fill="#aaa"/><circle cx="273.3" cy="512.7" r="0.35" fill="#888"/><circle cx="240.7" cy="506.8" r="0.55" fill="#bbb"/><circle cx="275.9" cy="516.9" r="0.45" fill="#777"/><circle cx="233.8" cy="497.7" r="0.35" fill="#888"/><circle cx="244.7" cy="497.7" r="0.35" fill="#aaa"/><circle cx="282.8" cy="506.0" r="0.55" fill="#aaa"/><circle cx="268.3" cy="488.4" r="0.35" fill="#bbb"/><circle cx="275.9" cy="497.1" r="0.45" fill="#999"/><circle cx="268.0" cy="488.6" r="0.55" fill="#aaa"/><circle cx="278.2" cy="492.2" r="0.55" fill="#aaa"/><circle cx="247.1" cy="502.4" r="0.35" fill="#999"/><circle cx="244.9" cy="484.5" r="0.45" fill="#777"/><circle cx="262.8" cy="514.3" r="0.45" fill="#999"/><circle cx="250.0" cy="491.0" r="0.35" fill="#888"/><circle cx="241.9" cy="514.1" r="0.55" fill="#aaa"/><circle cx="267.9" cy="502.3" r="0.35" fill="#777"/><circle cx="239.9" cy="488.2" r="0.45" fill="#bbb"/><circle cx="265.4" cy="484.6" r="0.55" fill="#777"/><circle cx="267.0" cy="511.4" r="0.45" fill="#777"/><circle cx="273.9" cy="507.1" r="0.45" fill="#777"/><circle cx="267.0" cy="517.9" r="0.55" fill="#777"/><circle cx="280.0" cy="492.6" r="0.35" fill="#999"/><circle cx="237.7" cy="499.5" r="0.45" fill="#888"/><circle cx="267.0" cy="512.4" r="0.45" fill="#999"/><circle cx="254.4" cy="522.7" r="0.55" fill="#777"/><circle cx="269.2" cy="487.2" r="0.55" fill="#bbb"/><circle cx="245.0" cy="487.7" r="0.55" fill="#888"/><circle cx="235.2" cy="508.5" r="0.45" fill="#bbb"/><circle cx="235.9" cy="507.2" r="0.35" fill="#999"/><circle cx="260.7" cy="518.2" r="0.55" fill="#bbb"/><circle cx="241.2" cy="494.6" r="0.45" fill="#777"/><circle cx="271.9" cy="499.4" r="0.55" fill="#999"/><circle cx="255.4" cy="519.7" r="0.45" fill="#888"/><circle cx="268.5" cy="504.7" r="0.35" fill="#bbb"/><circle cx="244.9" cy="519.6" r="0.55" fill="#777"/><circle cx="239.7" cy="509.8" r="0.55" fill="#777"/><circle cx="273.6" cy="499.7" r="0.45" fill="#888"/><circle cx="246.6" cy="516.7" r="0.55" fill="#888"/><circle cx="254.0" cy="523.0" r="0.35" fill="#bbb"/><circle cx="256.7" cy="482.4" r="0.45" fill="#aaa"/><circle cx="251.5" cy="482.7" r="0.45" fill="#888"/><circle cx="282.3" cy="504.0" r="0.55" fill="#bbb"/><circle cx="246.9" cy="510.7" r="0.35" fill="#bbb"/><circle cx="261.9" cy="486.1" r="0.55" fill="#bbb"/><circle cx="265.6" cy="493.9" r="0.45" fill="#aaa"/><circle cx="251.5" cy="523.5" r="0.55" fill="#aaa"/><circle cx="241.6" cy="516.2" r="0.35" fill="#999"/><circle cx="271.7" cy="486.0" r="0.45" fill="#aaa"/><circle cx="265.8" cy="519.9" r="0.35" fill="#999"/><circle cx="243.4" cy="515.9" r="0.35" fill="#888"/><circle cx="246.0" cy="522.4" r="0.35" fill="#bbb"/><circle cx="264.9" cy="525.2" r="0.35" fill="#aaa"/><circle cx="257.3" cy="511.1" r="0.45" fill="#aaa"/><circle cx="261.4" cy="481.2" r="0.55" fill="#bbb"/><circle cx="232.2" cy="500.9" r="0.55" fill="#bbb"/><circle cx="240.1" cy="516.5" r="0.35" fill="#999"/><circle cx="244.7" cy="519.2" r="0.55" fill="#777"/><circle cx="259.2" cy="513.6" r="0.45" fill="#aaa"/><circle cx="245.3" cy="488.4" r="0.35" fill="#bbb"/><circle cx="281.8" cy="498.5" r="0.45" fill="#aaa"/><circle cx="243.5" cy="490.7" r="0.45" fill="#bbb"/><circle cx="257.2" cy="482.8" r="0.35" fill="#777"/><circle cx="245.0" cy="516.0" r="0.45" fill="#777"/><circle cx="273.9" cy="515.4" r="0.55" fill="#999"/><circle cx="274.8" cy="496.8" r="0.45" fill="#bbb"/><circle cx="235.6" cy="500.4" r="0.35" fill="#bbb"/><circle cx="265.6" cy="520.7" r="0.35" fill="#888"/><circle cx="239.9" cy="491.3" r="0.55" fill="#999"/><circle cx="240.9" cy="486.0" r="0.55" fill="#777"/><circle cx="262.3" cy="486.3" r="0.55" fill="#999"/><circle cx="280.7" cy="503.9" r="0.45" fill="#999"/><circle cx="236.8" cy="492.1" r="0.35" fill="#777"/><circle cx="259.5" cy="489.9" r="0.45" fill="#bbb"/><circle cx="277.2" cy="489.9" r="0.35" fill="#bbb"/><circle cx="239.2" cy="513.7" r="0.35" fill="#777"/><circle cx="258.6" cy="490.2" r="0.35" fill="#777"/><circle cx="263.9" cy="513.5" r="0.45" fill="#bbb"/><circle cx="239.3" cy="489.3" r="0.55" fill="#777"/><circle cx="258.6" cy="497.3" r="0.35" fill="#999"/><circle cx="243.6" cy="519.9" r="0.35" fill="#888"/><circle cx="271.7" cy="512.5" r="0.35" fill="#bbb"/><circle cx="239.9" cy="508.6" r="0.35" fill="#aaa"/><circle cx="266.0" cy="497.3" r="0.35" fill="#bbb"/><circle cx="243.1" cy="491.1" r="0.35" fill="#888"/><circle cx="266.8" cy="499.6" r="0.45" fill="#888"/><circle cx="261.4" cy="499.7" r="0.45" fill="#aaa"/><circle cx="257.5" cy="521.1" r="0.35" fill="#aaa"/><circle cx="244.8" cy="513.0" r="0.35" fill="#bbb"/><circle cx="241.9" cy="513.9" r="0.35" fill="#aaa"/><circle cx="258.7" cy="524.8" r="0.35" fill="#888"/><circle cx="265.0" cy="519.0" r="0.45" fill="#999"/><circle cx="273.9" cy="516.2" r="0.45" fill="#bbb"/><circle cx="246.9" cy="489.9" r="0.45" fill="#777"/><circle cx="243.3" cy="520.9" r="0.45" fill="#888"/><circle cx="254.4" cy="517.1" r="0.45" fill="#888"/><circle cx="252.9" cy="496.2" r="0.35" fill="#999"/><circle cx="269.2" cy="514.3" r="0.45" fill="#888"/><circle cx="262.7" cy="484.8" r="0.45" fill="#bbb"/><circle cx="263.4" cy="485.8" r="0.35" fill="#888"/><circle cx="261.7" cy="520.1" r="0.45" fill="#aaa"/><circle cx="238.2" cy="493.7" r="0.45" fill="#999"/><circle cx="260.7" cy="521.9" r="0.55" fill="#aaa"/><circle cx="253.9" cy="491.4" r="0.55" fill="#999"/><circle cx="236.5" cy="491.8" r="0.55" fill="#999"/><circle cx="244.6" cy="493.9" r="0.35" fill="#888"/><circle cx="275.4" cy="518.8" r="0.35" fill="#bbb"/><circle cx="255.0" cy="522.4" r="0.35" fill="#aaa"/><circle cx="237.1" cy="495.0" r="0.35" fill="#999"/><circle cx="274.3" cy="512.3" r="0.35" fill="#888"/><circle cx="248.2" cy="489.4" r="0.35" fill="#777"/><circle cx="243.8" cy="518.2" r="0.45" fill="#bbb"/><circle cx="254.6" cy="489.6" r="0.35" fill="#777"/><circle cx="264.9" cy="488.9" r="0.45" fill="#aaa"/><circle cx="268.2" cy="489.4" r="0.55" fill="#aaa"/><circle cx="273.6" cy="486.4" r="0.45" fill="#888"/><circle cx="247.5" cy="513.6" r="0.45" fill="#999"/><circle cx="255.3" cy="496.1" r="0.35" fill="#aaa"/><circle cx="236.9" cy="516.9" r="0.35" fill="#777"/><circle cx="255.4" cy="519.2" r="0.55" fill="#bbb"/><circle cx="250.5" cy="490.3" r="0.35" fill="#aaa"/><circle cx="237.6" cy="511.8" r="0.35" fill="#999"/><circle cx="276.4" cy="507.6" r="0.55" fill="#999"/><circle cx="267.3" cy="521.6" r="0.55" fill="#888"/><circle cx="237.0" cy="501.0" r="0.55" fill="#aaa"/><circle cx="244.3" cy="520.1" r="0.35" fill="#777"/><circle cx="261.7" cy="481.9" r="0.35" fill="#999"/><circle cx="236.5" cy="492.1" r="0.35" fill="#777"/><circle cx="280.0" cy="508.1" r="0.35" fill="#999"/><circle cx="244.2" cy="521.0" r="0.45" fill="#777"/><circle cx="239.6" cy="516.2" r="0.35" fill="#bbb"/><circle cx="272.5" cy="511.8" r="0.45" fill="#aaa"/><circle cx="248.7" cy="482.4" r="0.55" fill="#aaa"/><circle cx="254.3" cy="494.3" r="0.55" fill="#aaa"/><circle cx="276.6" cy="495.2" r="0.45" fill="#888"/><circle cx="280.5" cy="509.1" r="0.45" fill="#bbb"/><circle cx="265.6" cy="515.1" r="0.55" fill="#888"/><circle cx="274.4" cy="499.9" r="0.45" fill="#888"/><circle cx="273.3" cy="512.6" r="0.35" fill="#999"/><circle cx="253.9" cy="491.2" r="0.35" fill="#aaa"/></g>
<use href="#front" x="256" y="381"/><use href="#headA" x="256" y="381"/>
<use href="#front" x="329.5" y="363"/><use href="#headA" x="329.5" y="363"/>
<use href="#front" x="400.5" y="381.5"/><use href="#headB" x="400.5" y="381.5"/>
<use href="#front" x="476" y="364"/><use href="#headB" x="476" y="364"/>
<use href="#front" x="549" y="382"/><use href="#headB" x="549" y="382"/>

<use href="#down" x="286.5" y="444" class="k"/>
<use href="#up" x="359.2" y="447.6" class="k"/>
<use href="#down" x="430" y="444.5" class="k"/>
<use href="#up" x="503.6" y="448.5" class="k"/>
<use href="#down" x="579.7" y="444.7" class="k"/>

<ellipse cx="333" cy="501" rx="27" ry="3.6" class="k"/>
<ellipse cx="477" cy="503" rx="26.5" ry="3.6" class="k"/>

<!-- numbers -->
<text x="237" y="253" class="num">1</text>
<text x="345.8" y="252" class="num">2</text>
<text x="440.3" y="250.5" class="num">3</text>
<text x="544" y="249" class="num">4</text>
<text x="257.5" y="584" class="num">1</text>
<text x="329.5" y="584" class="num">2</text>
<text x="399" y="584.5" class="num">3</text>
<text x="472" y="584.5" class="num">4</text>
<text x="547" y="584.5" class="num">5</text>
<!-- ===== TOP FIGURE 1 ===== -->
<g>
  <ellipse cx="282.3" cy="65" rx="8.3" ry="12.4" class="o" stroke-width="1.8"/>
  <path d="M279.6 78.6 L279.6 83.4 M288 78 L288 83" class="t"/>
  <path d="M273.7 82.2 Q268 84 264.1 87 Q261.5 92 261.1 99" class="d" stroke-width="1.9"/>
  <path d="M268.9 90.5 Q273 89.6 277.4 89.5 M284 88.5 Q290 89 295 90.5" class="t" stroke-width="1.5"/>
  <path d="M266.5 91 Q264.5 97 265.4 100 Q268 104.5 270 104.8 Q273 106 275.9 106" class="d" stroke-width="1.9"/>
  <path d="M277.4 91.7 L277.4 104.5" class="o"/>
  <path d="M284.4 88.1 Q293 89 297 94 Q298.5 98 297.5 100.7 Q295 104 292.3 104.5 Q288 105.5 283.4 105.2" class="d" stroke-width="1.9"/>
  <path d="M290.4 79.8 Q299 81 301.1 83.4 Q308.3 87 310.7 95.3 L311.9 102.5" class="d" stroke-width="1.9"/>
  <path d="M299.8 100 L305 106" stroke="#111" stroke-width="2.6" stroke-linecap="round"/>
  <path d="M307 107 Q309 118 310 128 M313 106 Q314 112 313 120 M302 128 L299 136 M312 128 L307 140" class="d"/>
  <path d="M268.4 107.5 Q271 111 272.9 115 L272.9 125.4 M262.5 103 Q259 107 259.5 109.7 L261.7 114.2 M298.3 107.5 Q296 111 295.3 115 L292.3 123.9" class="d"/>
  <path d="M275 115.5 Q275.5 111 279.6 110.5 Q284.3 111 284.6 115 Q284 119 279.6 119.5 Q275.8 119 275 115.5 M278.8 112 L278.8 128 M276 121 Q275 125 277 127.5 M285.6 119.5 Q285 124 282.5 127.5" class="t" stroke-width="1.6"/>
  <path d="M262.5 115 L256.5 121 M263.2 119.4 L261.7 126" class="d"/>
  <path d="M288 108 Q291 110 292 113" class="t" stroke-width="1.5"/>
  <!-- raised thigh -->
  <path d="M246 136 Q247.5 130.5 252 129.6 Q258 128.5 263 129.5 L267 130 L267 143 L259 142 Q252 140 248 139 Q245.5 138 246 136 Z" fill="#fff" class="o" stroke-width="1.9"/>
  <path d="M259.9 129 L296.4 128.5 L298.5 133 L298.5 157 L289 158 L279.7 158.7 L279.5 151 L270.3 150.3 L262 150 L258.8 147 L259.5 143.5 L265 144 Q268 142 267.2 139 Q268.5 134 266.8 130.5 L259.9 130.5 Z" class="k"/>
  <!-- shin -->
  <path d="M246 137 Q244.8 150 246.5 165 L248.5 172 M257 141 Q259 155 256 170 M250 141 Q248.5 150 250.5 162 M253 143 L254 156" class="o" stroke-width="1.9"/>
  <path d="M249 172 Q247.5 178 249 183.5 L259 184 Q258.5 176 254.5 169" fill="#fff" class="o"/>
  <path d="M250 177 L253 177" class="t"/>
  <!-- standing leg -->
  <path d="M279.8 160.3 Q280.5 170 283.8 181.6 M282.5 183 Q280.5 189 283.8 194.8 Q284.5 203 285.2 210.8" class="o"/>
  <path d="M296 160.3 Q296 168 293.1 180 Q295.5 190 290.5 201.5 L289.1 212 M294.5 168.3 L290.5 175 M286 184 L288 200" class="o"/>
  <path d="M284 213.4 L290.5 213.4 Q292.5 220 291.8 226 Q287 228.8 276 228 Q275 222 279 219.5 Q283 217.5 284 213.4 Z" fill="#fff" class="o"/>
  <path d="M280 222 L285 222.5" class="t"/>
</g>
<!-- ===== TOP FIGURE 2 ===== -->
<g>
  <ellipse cx="376.3" cy="18.4" rx="9.4" ry="12" class="o" stroke-width="1.8"/>
  <path d="M370.9 30.4 Q367 31 365.7 32.4 L364.6 35.6" class="o" stroke-width="1.9"/>
  <path d="M366.7 35.6 L375.1 35.6 M366.7 40.8 L374 41.9" class="o" stroke-width="1.7"/>
  <path d="M360.4 38.7 Q357.5 42 357.3 45 Q357 48 358.4 51.3" class="o" stroke-width="2"/>
  <path d="M362.5 41.9 L362.5 51.3 Q364 54 366.7 55.4" class="d" stroke-width="1.9"/>
  <path d="M375.1 41.9 L375.1 49.2 L377.2 54.4" class="d" stroke-width="1.9"/>
  <path d="M381.3 38.7 Q387 37.5 393.9 37.7 Q401 37.8 408.5 38.7 M386.6 32.4 L393.9 30.4" class="d" stroke-width="1.8"/>
  <path d="M387.6 24.1 Q391 24.8 394.9 26.2 L399.1 28.3 Q403 29 406.4 30.4 Q408.5 32 409.6 34.5 Q410.5 37 410.6 39.8" class="d" stroke-width="2"/>
  <path d="M363.6 52.3 Q367 54.5 370.9 55.4 Q376 56 382.4 55.4 Q387 54.5 391.8 52.3 Q395 50 397 47.1 Q398.6 44 399.1 40.8" class="d" stroke-width="2"/>
  <path d="M399.1 42.9 Q401.5 47.5 404.3 51.3 L407.5 53.3" stroke="#111" stroke-width="2.6" stroke-linecap="round" fill="none"/>
  <path d="M411.6 42.9 Q412.8 46 412.7 49.2 L412.7 55.4 M413.7 58.6 Q413.5 62 412.7 65.9 Q411 70 408.5 73.2 M406.4 57.5 Q405 62 404.3 65.9 Q402 72 399.1 77.4" class="d" stroke-width="2"/>
  <path d="M398 51 L398 57 M392.8 56.5 Q390 59 388.7 61.7" class="d" stroke-width="1.7"/>
  <path d="M360.4 57.5 Q359.5 62 358.4 65.9 L356.3 72.2 M356.3 73.2 L353.1 80.5 M366.7 58.6 Q368 62 367.8 65.9 Q366.5 68.5 364.6 70.1 M362.5 72.2 L359.4 80.5" class="d" stroke-width="2"/>
  <path d="M373 63.8 Q377 63 381.3 62.8 Q385 63.5 388 65 M374 69 L376.1 76.4 M380 67.5 L380 77 M384.5 69 L384.5 78.4 M373.5 72.5 L385 72.5" class="t" stroke-width="1.6"/>
  <path d="M392.8 65.9 L392.8 80.5 M368.5 62 L370.5 72 L371 78" class="d" stroke-width="1.8"/>
  <path d="M365.1 81.4 L392.5 81.4 L397 82 L397 108 Q390 110 376 111.5 L374 106 Q366 104 356 108 Q358 100 365.1 81.4 Z" class="k"/>
  <path d="M377.5 90 L378 96" stroke="#777" stroke-width="1.2"/>
  <!-- front leg -->
  <path d="M356 107 Q353 113 356 118 Q360 121.5 366 121 Q373 118 374 110 M360 106 Q364 108 368 113" class="o"/>
  <path d="M358 120 Q355 126 359 129 Q357 140 360 150 L361.4 162.7 M369 120 Q372 125 368 129 Q370 140 368.5 150 L368.7 162.7" class="d"/>
  <path d="M361.4 163 Q357 170 359.5 177.5 L370 177.8 Q372 170 368.7 163" fill="#fff" class="o"/>
  <path d="M362 168 L366 167 M362 172 L366 171" class="t"/>
  <!-- back leg -->
  <path d="M376 111.5 Q378 122 382 127 Q387 130 392 127 M396 110 Q400 118 399.8 128 M385 112 Q388 118 390 121" class="d"/>
  <path d="M391 130 L392 141 M398 130 L399 141" class="d"/>
</g>
<!-- ===== TOP FIGURE 3 ===== -->
<g>
  <ellipse cx="467.5" cy="22" rx="9.2" ry="12.6" transform="rotate(-12 467.5 22)" class="o" stroke-width="1.9"/>
  <path d="M477.2 26 L480.8 33.1 L485.6 31.3" class="o" stroke-width="1.9"/>
  <path d="M480.8 24.8 L488 24.8 Q491 23.8 494 23.6 Q498 24.5 501.1 26 L504.7 29.6" class="d"/>
  <path d="M496.3 35.5 Q500.5 33.5 504.7 33.1 Q508.5 33.6 511.9 35.5 Q515.5 38.5 517.8 42.7 Q519.5 47 519.6 51" class="o" stroke-width="2"/>
  <path d="M519 52.2 Q518 57.5 515.4 61.8 Q512.5 66.5 509.5 70.1" class="d"/>
  <path d="M500 37.9 Q503.5 40.5 507.1 43.9 Q510 46.5 511.9 49.9 Q512.5 55 511.3 60.6" class="d"/>
  <path d="M510.5 56 L511 62" stroke="#111" stroke-width="2.6" stroke-linecap="round"/>
  <path d="M468.9 35.5 Q466.8 37.5 465.3 39.1 L462.9 42.7 M459.3 42.7 Q457.2 45.5 456.3 48.7 Q455.5 51.5 455.7 54.6 M461.7 45.1 L460.5 53.4" class="d"/>
  <path d="M465.3 40.3 L473.7 41.5" class="o" stroke-width="1.7"/>
  <path d="M473.7 43.9 Q474 48 474.9 51 Q476.5 54 479.6 55.8 Q481.5 56.5 483.2 56.4 Q488.5 54.5 491.6 51 Q493.7 47.5 494 43.9 Q493.7 41.5 492.8 40.3" class="d"/>
  <path d="M464.1 55.8 Q468 58 472.5 59.4 Q475.5 59.5 478.4 58.2" class="o" stroke-width="1.9"/>
  <path d="M467.7 61.8 Q470 65.5 472.5 69 L474.9 73.7 M495.1 53.4 Q496 58 496.3 63 L497.5 74.9" class="d"/>
  <path d="M477.2 64.2 Q480.5 62.3 484.4 61.8 Q487.5 62.5 490.4 64.2 M479.3 67.5 L480.3 72 M484.2 66.5 L484.7 74 M487.5 67.5 L486.5 72 M478.5 75 L480.3 77" class="o" stroke-width="1.7"/>
  <path d="M459.3 67.5 L459.8 68.8" class="t"/>
  <path d="M473.9 79 Q486 76 497.9 75.5 Q500.5 82 500.8 90 Q500.5 96 498.9 99.9 Q495 106 491.9 109.9 L487.9 112.9 Q485 108 482.9 105.9 Q478 104 473.9 103.9 Q468 100 461 98.9 Q462.5 92 465 90 Q469 84 473.9 79 Z" class="k"/>
  <path d="M478 86 L479.5 92" stroke="#888" stroke-width="1.2"/>
  <!-- front thigh/knee -->
  <path d="M460.5 100 Q458.5 108 458 114.9 Q458 118 460 119" class="d" stroke-width="1.9"/>
  <path d="M471.9 109.9 Q473.5 106.5 475.9 105.9 Q480 105.5 482.9 106.9 Q486.5 109 487.9 112.9 Q487.5 116 484.9 117.9 Q481 120 477.9 120.8 Q474 120 472.9 117.9" class="o" stroke-width="1.9"/>
  <path d="M473.9 116.9 Q472 113 472.9 111.9 Q474.5 108.5 477.9 107.9" class="t" stroke-width="1.5"/>
  <!-- back (right) leg -->
  <path d="M487.9 119.8 Q492 117 495.9 116.9 Q500 117.5 502.8 119.8 Q504 124 503.8 129.8 M497 124 L497.5 138 M503.5 131 L503 137" class="d" stroke-width="1.9"/>
  <!-- front shin -->
  <path d="M466 123.8 Q464.5 130 464 135.7 Q462.5 146 460 155.7 M477.8 123.8 Q476 135 473.8 145.7 Q471 153 467.8 159.6" class="d" stroke-width="1.9"/>
  <path d="M456.5 157 Q452 162 450 167.6 Q455 170.5 461.9 169.6 Q467 167.5 468.8 163.6 Q468 159.5 466 158" fill="#fff" class="o" stroke-width="1.9"/>
</g>
<!-- ===== TOP FIGURE 4 ===== -->
<g>
  <ellipse cx="592.7" cy="60.9" rx="8.8" ry="12.4" class="o" stroke-width="1.8"/>
  <path d="M591 74.1 L591 78.6 M598 73.4 L598 77.9" class="t"/>
  <path d="M589.5 75.4 Q584 77 581.1 78.9 Q577.5 81 575.4 83.1 Q573 85 572.6 87.4 Q572 91 572.6 95.8" class="d" stroke-width="1.9"/>
  <path d="M598 74.7 Q602 75 606.5 76.1 Q611 78 615 80.3 Q618 83 619.2 86 Q620.5 89 620.6 93" class="d" stroke-width="1.9"/>
  <path d="M578 87 Q582.5 85.5 586.7 85.3 M594 83.3 Q600 83 603 84" class="t" stroke-width="1.5"/>
  <path d="M576.8 87.5 Q574.5 93 575 97 Q576.5 101 580 102.5 Q585 103 588.5 102.9 Q593 103 598 101.5 Q604 99 606.5 97.2 Q609 94 609.3 91.6 Q608.5 88 606.5 86.2" class="d" stroke-width="1.9"/>
  <path d="M588.2 87.4 L588.2 101.5" class="o"/>
  <path d="M609.3 94.4 L615 101.5" stroke="#111" stroke-width="2.6" stroke-linecap="round"/>
  <path d="M620.6 94.4 Q622.3 99 622 104.3 Q622 112 620.6 118.4 Q619.5 124 617.8 128.3 M613.6 105.7 Q615.5 112 616.4 118.4" class="d" stroke-width="1.9"/>
  <path d="M572.6 98.7 Q571 103 569.8 107.1 Q568 112 567 115.6 Q565 120 562.7 124.1 M578.2 104.3 Q577.5 112 576.8 124" class="d" stroke-width="1.9"/>
  <path d="M580 105 Q584 108 586 112 M604.5 105 L603 122" class="d"/>
  <path d="M585.3 107.1 Q590 105.5 596.4 106.5 Q600 107 603 109 M584 112.5 Q590 111 597 112 M586 117 Q591 116 598 117.5 M590.3 107 L590.3 124 M586.5 121 Q591 123 598 121" class="t" stroke-width="1.5"/>
  <!-- raised thigh -->
  <path d="M561.8 128 Q573.7 126 586.5 126.2 L588.3 140.9 Q586 145 583.8 146.3 Q572 145 562.7 142.7 Q561.5 135 561.8 128 Z" fill="#fff" class="o" stroke-width="2"/>
  <path d="M568 136.5 Q575 139 586.5 140" class="t" stroke-width="1.6"/>
  <path d="M586 125.8 L602 126.8 Q606.5 130 606 134.5 Q605.8 141 603 144.8 Q599 147.8 594.7 148.5 Q592 152 590.5 156.8 L581 156.8 Q578 152 577.2 148 L583.8 146.3 Q588.5 144 588.3 140.9 Z" class="k"/><path d="M589 157 L591 166" class="t" stroke-width="1.5"/>
  <!-- shin -->
  <path d="M555 133 Q553.5 150 554.8 168 M564 144 Q562.5 160 565.5 179" class="d"/>
  <path d="M557.8 171 Q556.5 177 558 181.8 L568.5 181.5 Q567.5 175 565.5 170" fill="#fff" class="o"/>
  <!-- standing leg -->
  <path d="M579 155 Q578 170 580.5 182 Q579 198 582.5 212 L584 221" class="d"/>
  <path d="M593.5 160 Q596 172 592 186 Q594 202 590.5 221" class="d"/>
  <path d="M584 219 Q582 227 585.5 230 L593 230 Q593.5 224 590.5 219" fill="#fff" class="o"/>
</g>
<!-- ===== INSET ===== -->
<defs>
  <pattern id="stip" width="4" height="4" patternUnits="userSpaceOnUse">
    <rect width="4" height="4" fill="#e6e6e6"/>
    <circle cx="1" cy="1" r="0.7" fill="#9a9a9a"/>
    <circle cx="3" cy="2.6" r="0.6" fill="#b0b0b0"/>
  </pattern>
</defs>

<!-- inset circle -->
<ellipse cx="295" cy="537" rx="24.3" ry="24.9" fill="#fff" stroke="#111" stroke-width="2.8"/>
<path d="M287.3 513.8 L293.5 526.5 M291.2 513.2 L297 525.5 M298 513.8 L301.5 527 M302 512.8 L305.5 526" class="o"/>
<path d="M279 549.3 L316.5 548.5 L315.5 553.5 L283 555 Z" class="k"/>
<path d="M293 527.3 Q288 532 282.5 537 Q278 540 276.7 543.7 Q275.5 547 277 548 L283 549.5 Q288 549 290.2 546.6 L296 536 Z" fill="#fff" class="o"/>
<path d="M296 529.2 Q293 533 290.2 537 Q286 543 283.4 548.5 Q283 552 285 552.8 L292.1 553.3 Q300 550 306.6 545.6 Q311 542 313.3 537.9 Q312.5 531 310.4 527.3 L304.6 526.3 Q300 529 296 529.2 Z" fill="#fff" class="o"/>
<path d="M288.5 531.5 L291 532.5 M286 535 L288.5 536 M283.5 538.5 L286 539.5 M294 532.5 L296.5 533.5 M292 536 L294.5 537 M290 539.5 L292.5 540.5" stroke="#111" stroke-width="1.5"/>
<path d="M299.8 544.5 L308.5 537.8" class="t"/>
<path d="M304 527 Q306 530 310 529" stroke="#111" stroke-width="2"/>
<!-- curved arrow -->
<path d="M241 511 L247 511.5 Q248 525 263.4 533.4 L272.4 531.2 L275.7 540.5 L249 541 L253.5 537.5 Q241 530 240.5 520 Z" fill="#fff" stroke="#111" stroke-width="1.8" stroke-linejoin="round"/>
<path d="M240.5 516 Q241 532 254 538.5 L249 539.5 Q238 531 239 516 Z" class="k"/>
<path d="M248 539.5 L276 539.5 L276 542.5 L248 542.5 Z" class="k"/>
</svg>
</body></html>
